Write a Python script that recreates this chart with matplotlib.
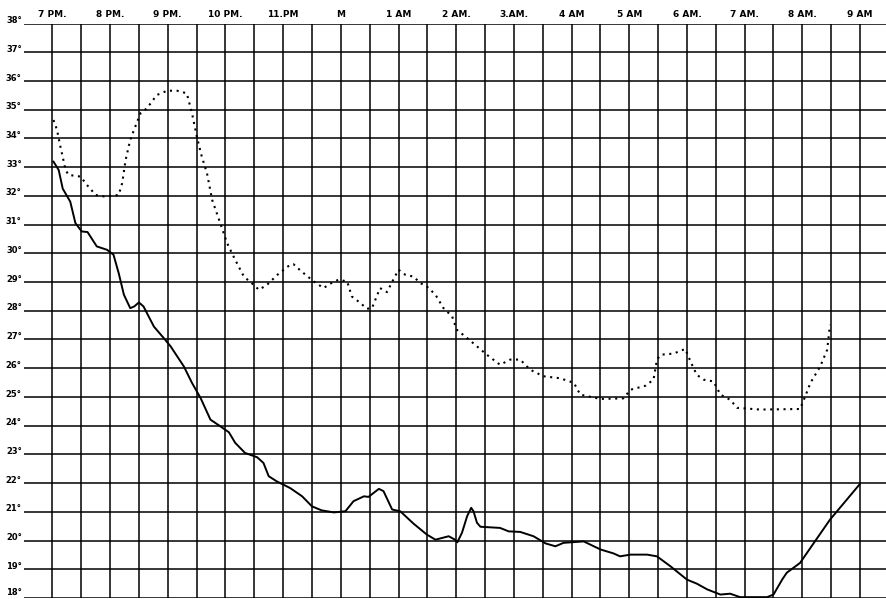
import numpy as np
import matplotlib
matplotlib.use('Agg')
import matplotlib.pyplot as plt

#%% datos (horas despues de las 7 PM, grados)

horas = ['7 PM.', '8 PM.', '9 PM.', '10 PM.', '11.PM', 'M', '1 AM', '2 AM.',
         '3.AM.', '4 AM', '5 AM', '6 AM.', '7 AM.', '8 AM.', '9 AM']
grados = list(range(18, 39))

# curva continua
t_seco = [0.02, 0.11, 0.18, 0.31, 0.40, 0.51, 0.61, 0.77, 0.95, 1.06, 1.15, 1.24,
          1.35, 1.42, 1.50, 1.58, 1.76, 1.93, 2.05, 2.28, 2.42, 2.57, 2.74, 2.91,
          3.06, 3.17, 3.34, 3.55, 3.66, 3.75, 3.89, 4.12, 4.33, 4.50, 4.67, 4.88,
          5.08, 5.22, 5.40, 5.48, 5.66, 5.74, 5.89, 6.03, 6.26, 6.49, 6.64, 6.87,
          6.98, 7.02, 7.10, 7.19, 7.26, 7.30, 7.36, 7.42, 7.76, 7.91, 8.11, 8.34,
          8.55, 8.72, 8.86, 9.21, 9.50, 9.73, 9.84, 10.02, 10.31, 10.48, 10.71,
          11.00, 11.17, 11.35, 11.58, 11.75, 11.92, 12.39, 12.50, 12.65, 12.73,
          12.96, 13.08, 13.48, 13.99]
T_seco = [33.19, 32.9, 32.25, 31.8, 31.05, 30.76, 30.74, 30.24, 30.12, 29.95, 29.31,
          28.56, 28.09, 28.15, 28.29, 28.15, 27.45, 27.05, 26.76, 26.06, 25.49, 24.96,
          24.21, 23.98, 23.77, 23.40, 23.05, 22.90, 22.70, 22.24, 22.06, 21.83, 21.54,
          21.19, 21.05, 20.98, 21.02, 21.37, 21.54, 21.52, 21.80, 21.72, 21.08, 21.02,
          20.59, 20.21, 20.03, 20.15, 20.03, 19.94, 20.27, 20.85, 21.14, 21.02, 20.62,
          20.48, 20.44, 20.32, 20.30, 20.15, 19.90, 19.80, 19.92, 19.97, 19.69, 19.55,
          19.45, 19.51, 19.51, 19.45, 19.11, 18.64, 18.50, 18.30, 18.12, 18.15, 18.03,
          18.03, 18.12, 18.64, 18.88, 19.22, 19.57, 20.73, 21.95]

# curva punteada
t_hum = [0.02, 0.08, 0.14, 0.23, 0.28, 0.49, 0.60, 0.75, 0.89, 1.15, 1.21, 1.27,
         1.35, 1.47, 1.53, 1.64, 1.81, 1.99, 2.16, 2.33, 2.42, 2.51, 2.59, 2.68,
         2.77, 2.91, 3.03, 3.17, 3.32, 3.49, 3.58, 3.72, 3.90, 4.12, 4.18, 4.30,
         4.53, 4.70, 4.85, 4.96, 5.11, 5.19, 5.34, 5.45, 5.54, 5.68, 5.80, 5.91,
         6.00, 6.12, 6.26, 6.38, 6.49, 6.64, 6.78, 6.93, 7.01, 7.19, 7.36, 7.53,
         7.76, 7.94, 8.11, 8.28, 8.51, 8.80, 9.04, 9.15, 9.50, 9.90, 10.02, 10.28,
         10.42, 10.48, 10.55, 10.77, 10.97, 11.06, 11.17, 11.29, 11.46, 11.58,
         11.75, 11.87, 12.27, 12.96, 13.05, 13.14, 13.31, 13.43, 13.48]
T_hum = [34.64, 34.3, 33.71, 32.90, 32.73, 32.67, 32.38, 32.03, 31.98, 32.03, 32.44,
         33.25, 33.95, 34.58, 34.88, 35.05, 35.51, 35.66, 35.66, 35.57, 34.88, 34.01,
         33.37, 32.79, 31.86, 31.05, 30.35, 29.77, 29.19, 28.90, 28.73, 28.90, 29.25,
         29.60, 29.62, 29.40, 29.02, 28.79, 28.98, 29.08, 29.02, 28.50, 28.27, 28.07,
         28.09, 28.79, 28.65, 29.08, 29.43, 29.25, 29.19, 28.96, 28.85, 28.56, 28.09,
         27.80, 27.34, 27.05, 26.76, 26.47, 26.12, 26.30, 26.30, 25.95, 25.72, 25.65,
         25.49, 25.08, 24.93, 24.95, 25.25, 25.39, 25.60, 26.30, 26.47, 26.51, 26.67,
         26.24, 25.77, 25.60, 25.54, 25.08, 24.90, 24.62, 24.56, 24.58, 25.02, 25.49,
         26.06, 26.64, 27.51]

#%% figura

fig = plt.figure(figsize=(8.86, 5.99), dpi=100)
ax = fig.add_axes([23.5/886, 1/599, 1 - 23.5/886, 574.5/599])

ax.set_xlim(-0.5, 14.45)
ax.set_ylim(18, 38)

# cuadricula: una linea cada media hora y cada grado
for xv in np.arange(-0.5, 14.5, 0.5):
    ax.axvline(xv, color='black', lw=1.1, zorder=1)
for yv in grados:
    ax.axhline(yv, color='black', lw=1.1, zorder=1)

ax.plot(t_seco, T_seco, '-', color='black', lw=1.4, zorder=3)
ax.plot(t_hum, T_hum, color='black', lw=1.5, linestyle=(0, (1, 2.2)), zorder=3)

for s in ax.spines.values():
    s.set_visible(False)
ax.set_xticks([])
ax.set_yticks([])

# etiquetas de horas arriba
for i, h in enumerate(horas):
    ax.text(i, 38.15, h, ha='center', va='bottom', fontsize=6.5,
            fontweight='bold', clip_on=False)

# etiquetas de grados a la izquierda
for g in grados:
    va = 'bottom' if g == 18 else 'center'
    ax.text(-0.53, g + (0.05 if g == 18 else 0.1), str(g) + '°', ha='right', va=va,
            fontsize=6, fontweight='bold', clip_on=False)

plt.savefig('out.png', dpi=100)
